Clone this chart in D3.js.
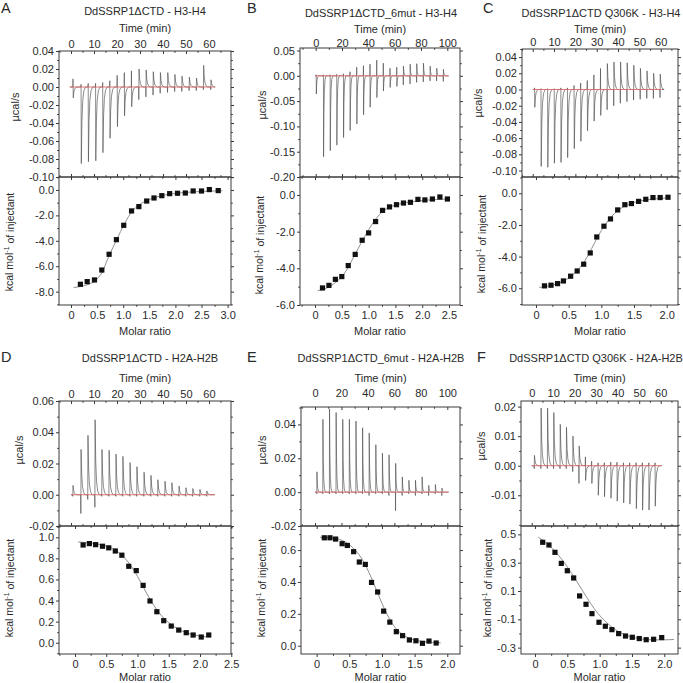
<!DOCTYPE html>
<html><head><meta charset="utf-8">
<script src="https://cdn.jsdelivr.net/npm/d3@7"></script>
<style>body{margin:0;background:#fff}</style>
</head><body><svg id="c" width="683" height="683"></svg>
<script>
// ---------------- DATA ----------------
const titles = ["DdSSRP1\u0394CTD - H3-H4","DdSSRP1\u0394CTD_6mut - H3-H4","DdSSRP1\u0394CTD Q306K - H3-H4",
                "DdSSRP1\u0394CTD - H2A-H2B","DdSSRP1\u0394CTD_6mut - H2A-H2B","DdSSRP1\u0394CTD Q306K - H2A-H2B"];
const letters = ["A","B","C","D","E","F"];

// injection times (min), upward and downward peak values (µcal/s)
const timesA = [0.8,4.3,7.4,10.6,13.7,16.8,20.0,23.1,26.2,29.4,32.5,35.6,38.7,41.9,45.0,48.1,51.3,54.4,57.5,60.7];
const upA    = [0.009,0.003,0.004,0.004,0.005,0.007,0.013,0.016,0.018,0.020,0.019,0.017,0.016,0.016,0.014,0.012,0.011,0.010,0.024,0.008];
const downA  = [-0.012,-0.085,-0.083,-0.082,-0.073,-0.057,-0.044,-0.032,-0.022,-0.014,-0.011,-0.009,-0.007,-0.006,-0.005,-0.005,-0.004,-0.004,-0.003,-0.003];

const timesB = [0.3,5.8,10.9,15.9,21.0,26.0,31.1,36.2,41.2,46.3,51.3,56.4,61.5,66.5,71.6,76.6,81.7,86.8,91.8,96.9];
const upB    = [0.002,0.002,0.002,0.003,0.004,0.008,0.017,0.020,0.023,0.031,0.025,0.015,0.017,0.019,0.023,0.024,0.025,0.019,0.015,0.013];
const downB  = [-0.036,-0.160,-0.148,-0.137,-0.122,-0.108,-0.095,-0.077,-0.062,-0.043,-0.030,-0.023,-0.021,-0.018,-0.016,-0.013,-0.012,-0.010,-0.010,-0.011];

const timesC = [0.8,3.8,6.9,10.0,13.1,16.2,19.3,22.4,25.5,28.6,31.7,34.8,37.9,41.0,44.1,47.2,50.3,53.4,56.5,59.6];
const upC    = [0.002,0.001,0.001,0.001,0.002,0.002,0.005,0.008,0.011,0.018,0.026,0.032,0.034,0.034,0.033,0.030,0.026,0.023,0.020,0.019];
const downC  = [-0.022,-0.095,-0.096,-0.091,-0.090,-0.084,-0.073,-0.064,-0.051,-0.039,-0.032,-0.025,-0.020,-0.017,-0.015,-0.013,-0.012,-0.011,-0.011,-0.010];

const timesD = [0.7,4.2,7.2,10.3,13.3,16.4,19.4,22.4,25.5,28.5,31.6,34.6,37.6,40.7,43.7,46.8,49.8,52.8,55.9,58.9];
const upD    = [0.006,0.029,0.038,0.048,0.029,0.0285,0.026,0.0246,0.0206,0.018,0.0144,0.0124,0.0096,0.0086,0.0077,0.0056,0.0045,0.004,0.0034,0.0024];
const downD  = [-0.001,-0.012,-0.003,-0.008,-0.001,-0.001,-0.001,-0.001,-0.001,-0.001,-0.001,-0.001,-0.001,-0.001,-0.001,-0.001,-0.001,-0.001,-0.001,-0.001];

const timesE = [1.3,5.8,10.8,15.8,20.8,25.8,30.8,35.8,40.8,45.8,50.8,55.8,60.8,65.8,70.8,75.8,80.8,85.8,90.8,95.8];
const upE    = [0.012,0.043,0.049,0.047,0.043,0.043,0.042,0.038,0.035,0.028,0.023,0.022,0.017,0.009,0.007,0.007,0.009,0.004,0.0045,0.0024];
const downE  = [-0.001,-0.001,-0.001,-0.001,-0.001,-0.001,-0.001,-0.001,-0.002,-0.001,-0.001,-0.002,-0.011,-0.002,-0.001,-0.002,-0.001,-0.002,-0.001,-0.002];

const timesF = [1.1,4.2,7.2,10.1,13.1,16.0,19.0,21.9,24.9,27.8,30.8,33.7,36.7,39.6,42.6,45.5,48.5,51.4,54.4,57.3];
const upF    = [0.0035,0.0195,0.0195,0.018,0.014,0.013,0.010,0.0067,0.003,0.0015,0.001,0.001,0.0012,0.0012,0.001,0.001,0.001,0.001,0.001,0.001];
const downF  = [-0.001,-0.001,-0.001,-0.001,-0.001,-0.001,-0.002,-0.006,-0.005,-0.006,-0.010,-0.0105,-0.011,-0.012,-0.0126,-0.013,-0.0145,-0.015,-0.015,-0.0137];

// integrated heats
const ratioA = [0.18,0.31,0.45,0.59,0.73,0.87,1.01,1.16,1.30,1.45,1.59,1.74,1.89,2.04,2.19,2.34,2.50,2.65,2.82];
const heatA  = [-7.42,-7.21,-7.08,-6.30,-5.06,-3.91,-2.78,-1.65,-1.31,-0.87,-0.63,-0.45,-0.29,-0.26,-0.24,-0.08,-0.08,0.03,-0.05];
const fitRatioA = [0.05,0.2,0.35,0.5,0.6,0.7,0.8,0.9,1.0,1.1,1.2,1.35,1.5,1.7,2.0,2.4,2.9];
const fitHeatA  = [-7.68,-7.58,-7.4,-7.0,-6.45,-5.45,-4.55,-3.7,-2.85,-2.1,-1.55,-1.05,-0.75,-0.48,-0.27,-0.14,-0.06];

const ratioB = [0.14,0.26,0.38,0.50,0.62,0.75,0.88,1.00,1.13,1.26,1.39,1.52,1.65,1.78,1.92,2.05,2.19,2.33,2.47];
const heatB  = [-5.07,-4.93,-4.60,-4.45,-3.85,-3.24,-2.47,-2.07,-1.45,-0.84,-0.65,-0.53,-0.44,-0.40,-0.24,-0.27,-0.22,-0.11,-0.22];
const fitRatioB = [0.05,0.2,0.35,0.5,0.6,0.7,0.8,0.9,1.0,1.1,1.2,1.3,1.45,1.6,1.8,2.1,2.5];
const fitHeatB  = [-5.22,-5.1,-4.85,-4.45,-4.05,-3.5,-2.95,-2.4,-1.9,-1.45,-1.08,-0.82,-0.6,-0.47,-0.37,-0.28,-0.22];

const ratioC = [0.13,0.23,0.33,0.42,0.53,0.63,0.73,0.83,0.93,1.04,1.14,1.25,1.36,1.46,1.57,1.68,1.79,1.90,2.02];
const heatC  = [-5.85,-5.81,-5.71,-5.54,-5.24,-4.91,-4.48,-3.77,-2.76,-2.08,-1.62,-1.05,-0.72,-0.65,-0.51,-0.38,-0.27,-0.27,-0.25];
const fitRatioC = [0.05,0.2,0.35,0.5,0.6,0.7,0.8,0.9,1.0,1.1,1.2,1.3,1.45,1.6,1.8,2.05];
const fitHeatC  = [-5.95,-5.85,-5.68,-5.35,-5.0,-4.55,-3.9,-3.1,-2.35,-1.75,-1.28,-0.95,-0.65,-0.48,-0.36,-0.28];

const ratioD = [0.13,0.23,0.33,0.44,0.54,0.645,0.75,0.86,0.98,1.09,1.20,1.31,1.42,1.54,1.66,1.78,1.89,2.02,2.14];
const heatD  = [0.927,0.94,0.93,0.915,0.90,0.87,0.83,0.725,0.684,0.544,0.396,0.294,0.209,0.158,0.120,0.095,0.073,0.054,0.073];
const fitRatioD = [0.05,0.25,0.45,0.6,0.75,0.85,0.95,1.05,1.15,1.25,1.35,1.5,1.7,1.9,2.1];
const fitHeatD  = [0.955,0.945,0.925,0.895,0.83,0.765,0.68,0.575,0.465,0.365,0.28,0.19,0.115,0.075,0.055];

const ratioE = [0.117,0.204,0.29,0.39,0.47,0.566,0.653,0.745,0.84,0.934,1.026,1.12,1.22,1.316,1.42,1.52,1.62,1.72,1.83];
const heatE  = [0.677,0.677,0.669,0.64,0.629,0.59,0.525,0.51,0.397,0.337,0.217,0.148,0.088,0.063,0.036,0.031,0.015,0.029,0.017];
const fitRatioE = [0.05,0.25,0.45,0.6,0.7,0.8,0.9,1.0,1.1,1.2,1.3,1.45,1.65,1.9];
const fitHeatE  = [0.68,0.675,0.648,0.595,0.54,0.46,0.365,0.265,0.18,0.115,0.075,0.042,0.025,0.018];

const ratioF = [0.119,0.216,0.309,0.407,0.50,0.598,0.69,0.789,0.881,0.99,1.088,1.19,1.294,1.40,1.505,1.613,1.72,1.835,1.96];
const heatF  = [0.444,0.425,0.373,0.295,0.243,0.192,0.065,0.006,-0.06,-0.121,-0.149,-0.173,-0.201,-0.218,-0.227,-0.236,-0.244,-0.241,-0.229];
const fitRatioF = [0.05,0.2,0.35,0.5,0.65,0.8,0.95,1.1,1.25,1.4,1.6,1.8,2.0,2.15];
const fitHeatF  = [0.48,0.43,0.36,0.27,0.165,0.055,-0.045,-0.12,-0.175,-0.21,-0.235,-0.245,-0.245,-0.242];

// baseline extents (min)
const baseStart = [-0.5,-0.5,0,0,0,0];
const baseEnd   = [62.5,101,60.5,62.5,101,60.5];

// tick labels
const timeTicks60 = [0,10,20,30,40,50,60];
const timeTicks100 = [0,20,40,60,80,100];
const rawTicksA = [-0.10,-0.08,-0.06,-0.04,-0.02,0,0.02,0.04];
const rawTicksB = [-0.20,-0.15,-0.10,-0.05,0,0.05];
const rawTicksC = [-0.10,-0.08,-0.06,-0.04,-0.02,0,0.02,0.04];
const rawTicksD = [-0.02,0,0.02,0.04,0.06];
const rawTicksE = [-0.02,0,0.02,0.04];
const rawTicksF = [-0.01,0,0.01,0.02];
const heatTicksA = [-8,-6,-4,-2,0];
const heatTicksB = [-6,-4,-2,0];
const heatTicksC = [-6,-4,-2,0];
const heatTicksD = [0,0.2,0.4,0.6,0.8,1.0];
const heatTicksE = [0,0.2,0.4,0.6];
const heatTicksF = [-0.3,-0.1,0.1,0.3,0.5];
const ratioTicksA = [0,0.5,1,1.5,2,2.5,3];
const ratioTicksB = [0,0.5,1,1.5,2,2.5];
const ratioTicksC = [0,0.5,1,1.5,2];
const ratioTicksD = [0,0.5,1,1.5,2,2.5];
const ratioTicksE = [0,0.5,1,1.5,2];
const ratioTicksF = [0,0.5,1,1.5,2];

// ---------------- LAYOUT ----------------
const FONT = '"Liberation Sans", Arial, Helvetica, sans-serif';
const svg = d3.select('#c').attr('font-family', FONT);

const panels = [
 {i:0, times:timesA, ups:upA, downs:downA, ratio:ratioA, heat:heatA, fr:fitRatioA, fh:fitHeatA,
  tT:timeTicks60, tMin:5, rT:rawTicksA, rMin:0.01, rf:'.2f', hT:heatTicksA, hMin:1, hf:'.1f', xT:ratioTicksA,
  timeDom:[-5.22,69.57], rawDom:[-0.10,0.04], ratioDom:[-0.23,3.065], heatDom:[-9.05,1.02],
  x0:59, x1:231, yTop:51, yMid:177, yBot:305, letX:1, letY:13, titX:145, titY:15, timeLabY:32, timeTickY:47.5,
  yl1X:15, yl1Y:107, yl2X:9, yl2Y:242, molY:335},
 {i:1, times:timesB, ups:upB, downs:downB, ratio:ratioB, heat:heatB, fr:fitRatioB, fh:fitHeatB,
  tT:timeTicks100, tMin:10, rT:rawTicksB, rMin:0.025, rf:'.2f', hT:heatTicksB, hMin:1, hf:'.1f', xT:ratioTicksB,
  timeDom:[-11.93,109.65], rawDom:[-0.20,0.055], ratioDom:[-0.28,2.705], heatDom:[-6.0,0.98],
  x0:300, x1:460, yTop:48, yMid:177, yBot:305, letX:247, letY:13, titX:381, titY:17, timeLabY:33, timeTickY:46.5,
  yl1X:262, yl1Y:105, yl2X:259, yl2Y:245, molY:335},
 {i:2, times:timesC, ups:upC, downs:downC, ratio:ratioC, heat:heatC, fr:fitRatioC, fh:fitHeatC,
  tT:timeTicks60, tMin:5, rT:rawTicksC, rMin:0.01, rf:'.2f', hT:heatTicksC, hMin:1, hf:'.1f', xT:ratioTicksC,
  timeDom:[-5.02,68.1], rawDom:[-0.108,0.05], ratioDom:[-0.214,2.173], heatDom:[-7.06,1.03],
  x0:522, x1:678, yTop:49, yMid:177, yBot:305, letX:483, letY:13, titX:601, titY:17, timeLabY:33, timeTickY:46,
  yl1X:478, yl1Y:103, yl2X:481, yl2Y:244, molY:335},
 {i:3, times:timesD, ups:upD, downs:downD, ratio:ratioD, heat:heatD, fr:fitRatioD, fh:fitHeatD,
  tT:timeTicks60, tMin:5, rT:rawTicksD, rMin:0.01, rf:'.2f', hT:heatTicksD, hMin:0.1, hf:'.1f', xT:ratioTicksD,
  timeDom:[-5.22,69.57], rawDom:[-0.02,0.06], ratioDom:[-0.256,2.496], heatDom:[-0.107,1.107],
  x0:59, x1:231, yTop:401, yMid:526, yBot:654, letX:1, letY:362, titX:150, titY:362, timeLabY:382, timeTickY:397.5,
  yl1X:19, yl1Y:450, yl2X:9, yl2Y:588, molY:681},
 {i:4, times:timesE, ups:upE, downs:downE, ratio:ratioE, heat:heatE, fr:fitRatioE, fh:fitHeatE,
  tT:timeTicks100, tMin:10, rT:rawTicksE, rMin:0.01, rf:'.2f', hT:heatTicksE, hMin:0.1, hf:'.1f', xT:ratioTicksE,
  timeDom:[-10.58,109.6], rawDom:[-0.02,0.0503], ratioDom:[-0.24,2.195], heatDom:[-0.052,0.751],
  x0:301, x1:460, yTop:407, yMid:526, yBot:654, letX:247, letY:362, titX:381, titY:362, timeLabY:382, timeTickY:397,
  yl1X:262, yl1Y:450, yl2X:261, yl2Y:588, molY:681},
 {i:5, times:timesF, ups:upF, downs:downF, ratio:ratioF, heat:heatF, fr:fitRatioF, fh:fitHeatF,
  tT:timeTicks60, tMin:5, rT:rawTicksF, rMin:0.005, rf:'.2f', hT:heatTicksF, hMin:0.1, hf:'.1f', xT:ratioTicksF,
  timeDom:[-4.98,68.05], rawDom:[-0.0204,0.0219], ratioDom:[-0.2165,2.212], heatDom:[-0.345,0.559],
  x0:521, x1:678, yTop:401, yMid:526, yBot:654, letX:477, letY:362, titX:596, titY:362, timeLabY:382, timeTickY:397,
  yl1X:481, yl1Y:446, yl2X:487, yl2Y:588, molY:681}
];

const AX = '#3a3a3a', TXT = '#2a2a2a';
const signed = f => d => d3.format(f)(d).replace('\u2212','-');
const ratioFmt = d => d === 0 ? '0' : d3.format('.1f')(d);

function minors(dom, step, majors) {
  const lo = Math.min(dom[0], dom[1]), hi = Math.max(dom[0], dom[1]);
  const out = [];
  for (let k = Math.ceil(lo / step - 1e-9); k * step <= hi + 1e-9; k++) {
    const v = k * step;
    if (!majors.some(m => Math.abs(m - v) < step * 1e-3)) out.push(v);
  }
  return out;
}

function addAxis(g, fn, scale, majors, minorVals, fmt, tx, ty, size, pad, labels) {
  const a = fn(scale).tickValues(majors).tickSize(size).tickPadding(pad)
    .tickFormat(labels ? fmt : () => '');
  const ag = g.append('g').attr('transform', `translate(${tx},${ty})`).call(a);
  ag.select('.domain').remove();
  ag.selectAll('line').attr('stroke', AX).attr('stroke-width', 1);
  ag.selectAll('text').attr('font-size', 11).attr('font-family', FONT).attr('fill', TXT);
  const m = fn(scale).tickValues(minorVals).tickSize(size * 0.6).tickFormat(() => '');
  const mg = g.append('g').attr('transform', `translate(${tx},${ty})`).call(m);
  mg.select('.domain').remove();
  mg.selectAll('line').attr('stroke', AX).attr('stroke-width', 1);
}

function tracePoints(times, ups, downs, t0, t1) {
  const pts = [[t0, 0]];
  times.forEach((t, i) => {
    const u = ups[i], d = downs[i];
    const main = Math.abs(u) >= Math.abs(d) ? u : d;
    const other = main === u ? d : u;
    pts.push([t, 0], [t + 0.08, other], [t + 0.18, main], [t + 0.45, main * 0.45],
             [t + 0.8, main * 0.18], [t + 1.3, main * 0.05], [t + 2.0, 0]);
  });
  pts.push([t1, 0]);
  return pts;
}

panels.forEach(p => {
  const g = svg.append('g');
  const xt = d3.scaleLinear().domain(p.timeDom).range([p.x0, p.x1]);
  const yt = d3.scaleLinear().domain(p.rawDom).range([p.yMid, p.yTop]);
  const xr = d3.scaleLinear().domain(p.ratioDom).range([p.x0, p.x1]);
  const yr = d3.scaleLinear().domain(p.heatDom).range([p.yBot, p.yMid]);

  // raw thermogram
  const line = d3.line().x(d => xt(d[0])).y(d => yt(d[1]));
  g.append('path').attr('d', line(tracePoints(p.times, p.ups, p.downs, baseStart[p.i], baseEnd[p.i])))
    .attr('fill', 'none').attr('stroke', '#4d4d4d').attr('stroke-width', 0.65);
  g.append('path').attr('d', line([[baseStart[p.i], 0], [baseEnd[p.i], 0]]))
    .attr('fill', 'none').attr('stroke', '#e06666').attr('stroke-width', 0.9);

  // fit
  const fl = d3.line().curve(d3.curveMonotoneX).x(d => xr(d[0])).y(d => yr(d[1]));
  g.append('path').attr('d', fl(p.fr.map((r, k) => [r, p.fh[k]])))
    .attr('fill', 'none').attr('stroke', '#909090').attr('stroke-width', 1);
  // points
  g.selectAll('rect.pt').data(p.ratio.map((r, k) => [r, p.heat[k]])).enter().append('rect')
    .attr('class', 'pt').attr('x', d => xr(d[0]) - 2.6).attr('y', d => yr(d[1]) - 2.6)
    .attr('width', 5.2).attr('height', 5.2).attr('fill', '#111');

  // boxes
  g.append('rect').attr('x', p.x0).attr('y', p.yTop).attr('width', p.x1 - p.x0).attr('height', p.yMid - p.yTop)
    .attr('fill', 'none').attr('stroke', AX).attr('stroke-width', 1);
  g.append('rect').attr('x', p.x0).attr('y', p.yMid).attr('width', p.x1 - p.x0).attr('height', p.yBot - p.yMid)
    .attr('fill', 'none').attr('stroke', AX).attr('stroke-width', 1);

  // axes: top panel
  const tMinors = minors(p.timeDom, p.tMin, p.tT);
  addAxis(g, d3.axisTop, xt, p.tT, tMinors, d => String(d), 0, p.yTop, -3, p.yTop - p.timeTickY, true);
  addAxis(g, d3.axisBottom, xt, p.tT, tMinors, null, 0, p.yMid, -3, 0, false);
  const rMinors = minors(p.rawDom, p.rMin, p.rT);
  addAxis(g, d3.axisLeft, yt, p.rT, rMinors, signed(p.rf), p.x0, 0, 3, 2, true);
  addAxis(g, d3.axisRight, yt, p.rT, rMinors, null, p.x1, 0, 3, 2, false);
  // axes: bottom panel
  const xMinors = minors(p.ratioDom, 0.25, p.xT);
  addAxis(g, d3.axisBottom, xr, p.xT, xMinors, ratioFmt, 0, p.yBot, 3, 3, true);
  addAxis(g, d3.axisTop, xr, p.xT, xMinors, null, 0, p.yMid, -3, 0, false);
  const hMinors = minors(p.heatDom, p.hMin, p.hT);
  addAxis(g, d3.axisLeft, yr, p.hT, hMinors, signed(p.hf), p.x0, 0, 3, 2, true);
  addAxis(g, d3.axisRight, yr, p.hT, hMinors, null, p.x1, 0, 3, 2, false);

  // texts
  g.append('text').attr('x', p.letX).attr('y', p.letY).attr('font-size', 14.5).attr('fill', TXT).text(letters[p.i]);
  g.append('text').attr('x', p.titX).attr('y', p.titY).attr('font-size', 11).attr('fill', TXT)
    .attr('text-anchor', 'middle').text(titles[p.i]);
  g.append('text').attr('x', (p.x0 + p.x1) / 2).attr('y', p.timeLabY).attr('font-size', 11).attr('fill', TXT)
    .attr('text-anchor', 'middle').text('Time (min)');
  g.append('text').attr('x', (p.x0 + p.x1) / 2).attr('y', p.molY).attr('font-size', 11).attr('fill', TXT)
    .attr('text-anchor', 'middle').text('Molar ratio');
  g.append('text').attr('transform', `translate(${p.yl1X},${p.yl1Y}) rotate(-90)`).attr('dy', '0.35em')
    .attr('font-size', 11).attr('fill', TXT).attr('text-anchor', 'middle').text('\u00b5cal/s');
  const kt = g.append('text').attr('transform', `translate(${p.yl2X},${p.yl2Y}) rotate(-90)`).attr('dy', '0.35em')
    .attr('font-size', 10.5).attr('fill', TXT).attr('text-anchor', 'middle');
  kt.append('tspan').text('kcal mol');
  kt.append('tspan').attr('font-size', 7).attr('dy', '-0.5em').text('-1');
  kt.append('tspan').attr('dy', '0.5em').text(' of injectant');
});
</script></body></html>
